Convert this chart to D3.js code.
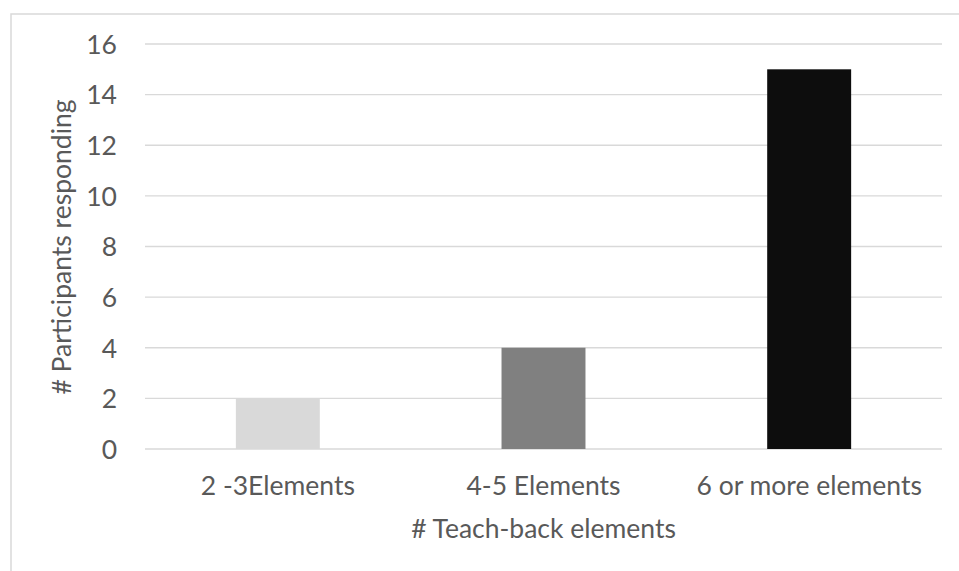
<!DOCTYPE html>
<html>
<head>
<meta charset="utf-8">
<script src="https://cdn.jsdelivr.net/npm/d3@7"></script>
<style>
  html, body { margin: 0; padding: 0; background: #fff; }
  svg { display: block; }
  text { font-family: Lato, "Open Sans", sans-serif; fill: #595959; }
</style>
</head>
<body>
<svg id="chart" width="959" height="571"></svg>
<script>
// Responses per number of teach-back elements
const categories = ["2 -3Elements", "4-5 Elements", "6 or more elements"];
const participants = [2, 4, 15];
const barColors = ["#d9d9d9", "#808080", "#0d0d0d"];
const yTicks = [0, 2, 4, 6, 8, 10, 12, 14, 16];
const xTitle = "# Teach-back elements";
const yTitle = "# Participants responding";

const W = 959, H = 571;
const plot = { left: 145, right: 942, top: 44, bottom: 449 };
const fontSize = "26.5px";

const svg = d3.select("#chart");

// outer chart frame (open on the right and bottom edges of the window)
svg.append("rect")
  .attr("x", 11).attr("y", 14)
  .attr("width", W + 10).attr("height", H + 10)
  .attr("fill", "none").attr("stroke", "#d9d9d9").attr("stroke-width", 1.5);

const x = d3.scaleBand()
  .domain(categories)
  .range([plot.left, plot.right])
  .paddingInner(0.684)
  .paddingOuter(0.342);

const y = d3.scaleLinear()
  .domain([0, 16])
  .range([plot.bottom, plot.top]);

// horizontal gridlines
svg.append("g")
  .selectAll("line")
  .data(yTicks)
  .join("line")
  .attr("x1", plot.left).attr("x2", plot.right)
  .attr("y1", d => y(d)).attr("y2", d => y(d))
  .attr("stroke", "#d9d9d9").attr("stroke-width", 1.3);

// bars
svg.append("g")
  .selectAll("rect")
  .data(categories)
  .join("rect")
  .attr("x", d => x(d))
  .attr("width", x.bandwidth())
  .attr("y", (d, i) => y(participants[i]))
  .attr("height", (d, i) => y(0) - y(participants[i]))
  .attr("fill", (d, i) => barColors[i]);

// y axis labels
const yAxis = d3.axisLeft(y).tickValues(yTicks).tickSize(0).tickPadding(0);
const gy = svg.append("g")
  .attr("transform", `translate(117,0)`)
  .call(yAxis);
gy.select(".domain").remove();
gy.selectAll("text")
  .style("font-size", fontSize)
  .style("font-family", "Lato, 'Open Sans', sans-serif")
  .attr("fill", "#595959")
  .attr("dy", "0.35em");

// x axis labels
const xAxis = d3.axisBottom(x).tickSize(0).tickPadding(0);
const gx = svg.append("g")
  .attr("transform", `translate(0,${plot.bottom})`)
  .call(xAxis);
gx.select(".domain").remove();
gx.selectAll("text")
  .style("font-size", fontSize)
  .style("font-family", "Lato, 'Open Sans', sans-serif")
  .attr("fill", "#595959")
  .attr("dy", null)
  .attr("y", 39)
  .attr("dominant-baseline", "middle");

// axis titles
svg.append("text")
  .attr("x", (plot.left + plot.right) / 2)
  .attr("y", 531)
  .attr("text-anchor", "middle")
  .attr("dominant-baseline", "middle")
  .style("font-size", fontSize)
  .text(xTitle);

svg.append("text")
  .attr("transform", "translate(64,247) rotate(-90)")
  .attr("text-anchor", "middle")
  .attr("dominant-baseline", "middle")
  .style("font-size", fontSize)
  .text(yTitle);
</script>
</body>
</html>
